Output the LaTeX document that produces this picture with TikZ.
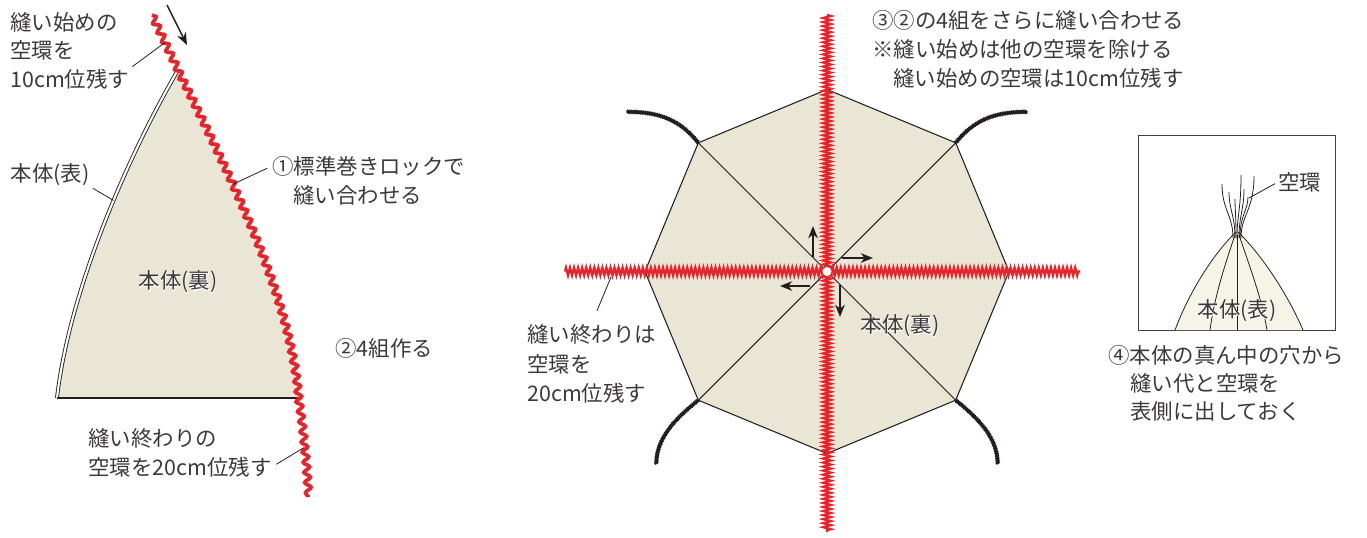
\documentclass[tikz,border=0pt]{standalone}
\usepackage{fontspec}
\setmainfont{Noto Sans CJK JP}
\newfontfamily\halofont[FakeBold=4]{Noto Sans CJK JP}
\usepackage{tikz}
\usetikzlibrary{decorations.pathmorphing,arrows.meta}

\definecolor{fabric}{RGB}{233,230,214}
\definecolor{fabriclt}{RGB}{246,244,230}
\definecolor{lockred}{RGB}{232,35,42}
\definecolor{ink}{RGB}{35,30,30}

% white outline behind a label that sits on lines
\newcommand{\halo}[1]{\rlap{\color{white}\halofont #1}#1}

\tikzset{
	txt/.style={inner sep=0pt, anchor=west, text=ink!88, font=\fontsize{12.2pt}{14pt}\selectfont},
	leader/.style={draw=ink, line width=0.45pt},
	wavy/.style={draw=lockred, line width=2.1pt, decorate, decoration={snake, segment length=5.8pt, amplitude=1.7pt}},
	lock/.style={draw=lockred, line width=1.3pt, decorate, decoration={zigzag, segment length=2.3pt, amplitude=2.2pt}},
	tail/.style={draw=ink, line width=1.4pt, decorate, decoration={zigzag, segment length=1pt, amplitude=0.3pt}},
	thread/.style={draw=ink, line width=0.45pt},
	arr/.style={draw=ink, line width=0.85pt, -{Stealth[length=7pt, width=5.5pt]}},
}

\begin{document}
\begin{tikzpicture}[x=0.02cm, y=-0.02cm]
	\useasboundingbox (0,0) rectangle (1367,538);

	% one piece, wrong side up
	\fill[fabric] (178,70) .. controls (240,195) and (290,300) .. (298,398) -- (57,398) .. controls (68,300) and (120,170) .. (178,70);
	\draw[ink, line width=0.5pt, double=white, double distance=1.2pt] (57,398) .. controls (68,300) and (120,170) .. (178,70) coordinate[pos=0.6] (edgeL);
	\draw[ink, line width=0.9pt] (57,398) -- (298,398);
	\path (152,15) -- (178,70) coordinate[pos=0.5] (sewA)
		.. controls (240,195) and (290,300) .. (298,398) coordinate[pos=0.32] (sewB)
		.. controls (303,430) and (306,465) .. (308,497) coordinate[pos=0.5] (sewC);
	\draw[wavy] (152,15) -- (178,70) .. controls (240,195) and (290,300) .. (298,398) .. controls (303,430) and (306,465) .. (308,497);

	\coordinate (arrA) at (167,5);
	\coordinate (arrB) at (187,45);
	\draw[arr] (arrA) -- (arrB);

	\node[txt] (startA) at (10,22) {縫い始めの};
	\node[txt] (startB) at (10,50) {空環を};
	\node[txt] (startC) at (10,79) {10cm位残す};
	\draw[leader, shorten <=2pt] (startC.north east) -- (sewA);

	\node[txt, anchor=center] (omoteL) at (50,175) {本体(表)};
	\draw[leader, shorten <=2pt] (omoteL.south east) -- (edgeL);
	\node[txt, anchor=center] (uraL) at (178,282) {\halo{本体(裏)}};

	\node[txt] (rollA) at (272,166) {①標準巻きロックで};
	\node[txt] (rollB) at (293,195) {縫い合わせる};
	\draw[leader, shorten >=3pt] (sewB) -- (rollA.west);

	\node[txt] (four) at (335,348) {②4組作る};

	\node[txt] (endA) at (88,438) {縫い終わりの};
	\node[txt] (endB) at (88,467) {空環を20cm位残す};
	\draw[leader, shorten <=3pt] (endB.east) -- (sewC);

	% four pairs sewn into the octagon
	\coordinate (oc) at (827,271.5);
	\foreach \a [count=\i from 0] in {0,45,...,315}
		\path (oc) ++(\a:182) coordinate (v\i);
	\draw[fill=fabric, draw=ink, line width=0.6pt] (v0) -- (v1) -- (v2) -- (v3) -- (v4) -- (v5) -- (v6) -- (v7) -- cycle;
	\draw[ink, line width=0.6pt] (v1) -- (v5) (v3) -- (v7);

	\draw[tail] (v5) .. controls +(-20,-25) and +(30,0) .. +(-72,-31);
	\draw[tail] (v7) .. controls +(20,-25) and +(-30,0) .. +(72,-31);
	\draw[tail] (v3) .. controls +(-25,20) and +(0,-25) .. +(-42,64);
	\draw[tail] (v1) .. controls +(25,20) and +(0,-25) .. +(42,64);

	\coordinate (vt) at (827,15);
	\coordinate (vb) at (827,532);
	\coordinate (hl) at (565,271.5);
	\coordinate (hr) at (1080,271.5);
	\draw[lock] (vt) -- (vb);
	\draw[lock] (hl) -- (hr);
	\fill[white] (oc) circle (4.5);

	\coordinate (upS) at (813,257);   \coordinate (upE) at (813,226);
	\coordinate (rtS) at (842,258);   \coordinate (rtE) at (873,258);
	\coordinate (dnS) at (840,285);   \coordinate (dnE) at (840,317);
	\coordinate (lfS) at (810,286);   \coordinate (lfE) at (780,286);
	\draw[arr] (upS) -- (upE);
	\draw[arr] (rtS) -- (rtE);
	\draw[arr] (dnS) -- (dnE);
	\draw[arr] (lfS) -- (lfE);

	\node[txt, anchor=center] (uraO) at (900,326) {\halo{本体(裏)}};

	\coordinate (hA) at (611,277);
	\node[txt] (owariA) at (527,334) {縫い終わりは};
	\node[txt] (owariB) at (527,364) {空環を};
	\node[txt] (owariC) at (527,393) {20cm位残す};
	\draw[leader, shorten >=8pt] (hA) -- (owariA.north);

	\node[txt] (stepA) at (872,20) {③②の4組をさらに縫い合わせる};
	\node[txt] (stepB) at (872,49) {※縫い始めは他の空環を除ける};
	\node[txt] (stepC) at (893,78) {縫い始めの空環は10cm位残す};

	% close-up of the centre, right side out
	\draw[ink!85, line width=0.5pt] (1138,135) rectangle (1335,330);
	\fill[fabriclt] (1237,232) .. controls (1212,255) and (1188,295) .. (1175,330) -- (1303,330) .. controls (1288,295) and (1262,255) .. (1237,232);
	\draw[thread] (1236,232) .. controls (1212,255) and (1188,295) .. (1175,330);
	\draw[thread] (1238,232) .. controls (1262,255) and (1288,295) .. (1303,330);
	\draw[thread] (1235,235) .. controls (1223,270) and (1214,300) .. (1210,330);
	\draw[thread] (1237,235) -- (1237,330);
	\draw[thread] (1239,235) .. controls (1251,270) and (1262,300) .. (1267,330);
	\foreach \sx/\ex/\ey in {1233/1222/184, 1235/1229/192, 1236/1235/199, 1237/1241/175, 1239/1244/189, 1240/1248/197, 1241/1254/176}
		\draw[thread] (\sx,238) .. controls (\sx,215) and (\ex,210) .. (\ex,\ey);

	\coordinate (thr) at (1249,198);
	\node[txt] (kukan) at (1278,182) {空環};
	\draw[leader, shorten >=2pt] (thr) -- (kukan.west);
	\node[txt, anchor=center] (omoteR) at (1237,311) {\halo{本体(表)}};

	\node[txt] (holeA) at (1108,355) {④本体の真ん中の穴から};
	\node[txt] (holeB) at (1130,383) {縫い代と空環を};
	\node[txt] (holeC) at (1130,411) {表側に出しておく};
\end{tikzpicture}
\end{document}
